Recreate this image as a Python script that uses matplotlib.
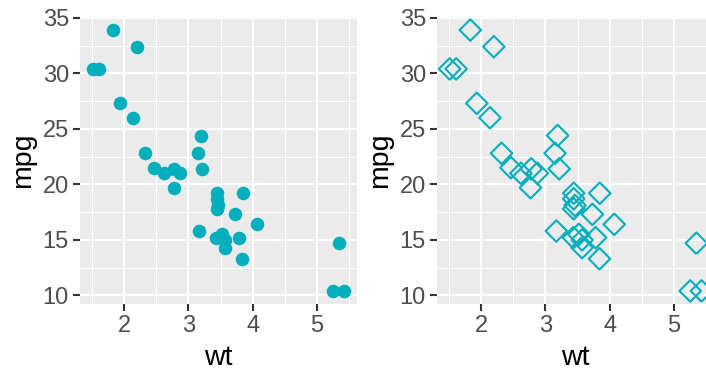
import numpy as np
import matplotlib
matplotlib.use("Agg")
from matplotlib import pyplot as plt
from matplotlib.ticker import MultipleLocator

# mtcars: weight (1000 lbs) and miles per gallon
wt = [2.620, 2.875, 2.320, 3.215, 3.440, 3.460, 3.570, 3.190, 3.150, 3.440,
      3.440, 4.070, 3.730, 3.780, 5.250, 5.424, 5.345, 2.200, 1.615, 1.835,
      2.465, 3.520, 3.435, 3.840, 3.845, 1.935, 2.140, 1.513, 3.170, 2.770,
      3.570, 2.780]
mpg = [21.0, 21.0, 22.8, 21.4, 18.7, 18.1, 14.3, 24.4, 22.8, 19.2,
       17.8, 16.4, 17.3, 15.2, 10.4, 10.4, 14.7, 32.4, 30.4, 33.9,
       21.5, 15.5, 15.2, 13.3, 19.2, 27.3, 26.0, 30.4, 15.8, 19.7,
       15.0, 21.4]
x_ticks = [2, 3, 4, 5]
y_ticks = [10, 15, 20, 25, 30, 35]

col = "#00AFBB"
plt.rcParams['font.family'] = ['Liberation Sans', 'DejaVu Sans']

fig = plt.figure(figsize=(7.06, 3.71), dpi=100)

def gg_axes(rect):
    ax = fig.add_axes(rect)
    ax.set_facecolor("#EBEBEB")
    ax.set_axisbelow(True)
    for s in ax.spines.values():
        s.set_visible(False)
    ax.set_xticks(x_ticks)
    ax.set_yticks(y_ticks)
    ax.xaxis.set_minor_locator(MultipleLocator(0.5))
    ax.yaxis.set_minor_locator(MultipleLocator(2.5))
    ax.grid(which="major", color="white", linewidth=1.5)
    ax.grid(which="minor", color="white", linewidth=0.75)
    ax.tick_params(which="major", length=5, width=1.5, color="#333333",
                   labelsize=17, labelcolor="#4D4D4D", pad=3)
    ax.tick_params(which="minor", length=0)
    xr = max(wt) - min(wt)
    yr = max(mpg) - min(mpg)
    ax.set_xlim(min(wt) - 0.05 * xr, max(wt) + 0.05 * xr)
    ax.set_ylim(min(mpg) - 0.05 * yr, max(mpg) + 0.05 * yr)
    ax.set_xlabel("wt", fontsize=20.5, labelpad=6)
    ax.set_ylabel("mpg", fontsize=20.5, labelpad=5)
    return ax

ax1 = gg_axes([0.1133, 0.1806, 0.3924, 0.7736])
ax1.scatter(wt, mpg, s=95, color=col, linewidths=0, zorder=3)

# right panel runs past the figure edge (cropped like the original)
ax2 = gg_axes([0.619, 0.1806, 0.3924, 0.7736])
ax2.scatter(wt, mpg, s=120, marker="D", facecolors="none", edgecolors=col,
            linewidths=1.5, zorder=3, clip_on=False)

fig.savefig("out.png", dpi=100)
